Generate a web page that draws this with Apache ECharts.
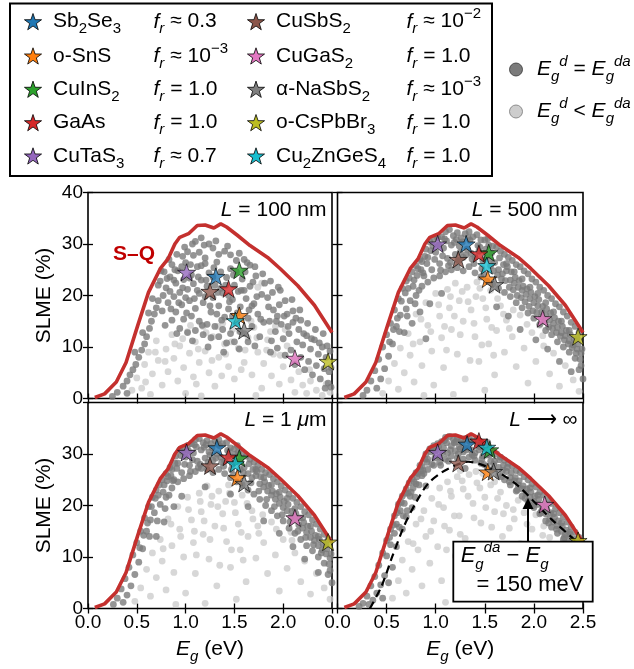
<!DOCTYPE html>
<html>
  <head>
    <meta charset="utf-8" />
    <title>ECharts - SLME vs band gap</title>
    <script src="https://cdn.jsdelivr.net/npm/echarts@6.0.0/dist/echarts.min.js"></script>
  </head>
  <body style="margin:0;">
    <div id="main" style="width: 634px;height:669px;"></div>

    <script type="text/javascript">
      // materials drawn as stars, same order in every panel
      var materials = ['Sb2Se3', 'o-SnS', 'CuInS2', 'GaAs', 'CuTaS3', 'CuSbS2', 'CuGaS2', 'α-NaSbS2', 'o-CsPbBr3', 'Cu2ZnGeS4'];
      var materialLabels = ['Sb{s|2}Se{s|3}', 'o-SnS', 'CuInS{s|2}', 'GaAs', 'CuTaS{s|3}', 'CuSbS{s|2}', 'CuGaS{s|2}', 'α-NaSbS{s|2}', 'o-CsPbBr{s|3}', 'Cu{s|2}ZnGeS{s|4}'];
      var frLabels = [' ≈ 0.3', ' ≈ 10{p|−3}', ' = 1.0', ' = 1.0', ' ≈ 0.7', ' ≈ 10{p|−2}', ' = 1.0', ' ≈ 10{p|−3}', ' = 1.0', ' = 1.0'];
      var starColors = ['#1f77b4', '#ff7f0e', '#2ca02c', '#d62728', '#9467bd', '#8c564b', '#e377c2', '#7f7f7f', '#bcbd22', '#17becf'];
      var panelTitles = ['{i|L} = 100 nm', '{i|L} = 500 nm', '{i|L} = 1 {i|μ}m', '{i|L} ⟶ ∞'];

      // Shockley-Queisser limit (eV, %)
      var sqEg = [0.07, 0.17, 0.29, 0.39, 0.51, 0.62, 0.74, 0.82, 0.89, 0.94, 1.03, 1.12, 1.20, 1.29, 1.36, 1.42, 1.53, 1.66, 1.84, 1.97, 2.15, 2.32, 2.50];
      var sqSlme = [0.2, 0.9, 3.2, 7.0, 14.2, 20.6, 25.2, 27.1, 30.0, 31.3, 32.0, 33.6, 33.7, 33.1, 33.9, 33.3, 31.7, 29.7, 27.4, 25.2, 21.9, 18.1, 12.8];

      // S-Q shifted by Eg_da - Eg = 150 meV (dashed curve, L -> inf panel)
      var daEg = [0.33, 0.45, 0.56, 0.68, 0.80, 0.92, 1.06, 1.19, 1.33, 1.50, 1.67, 1.84, 2.01, 2.18, 2.38, 2.50];
      var daSlme = [0.0, 4.4, 10.2, 16.1, 20.6, 24.2, 26.4, 27.7, 28.5, 27.7, 26.1, 23.8, 20.6, 17.3, 13.9, 11.6];
      var arrowEg = 1.94, arrowFrom = 13.0, arrowTo = 20.4;

      // star positions [Eg, SLME] per panel
      var starsL100 = [[1.31, 23.7], [1.55, 16.1], [1.55, 24.9], [1.44, 21.3], [1.01, 24.5], [1.25, 20.8], [2.12, 7.8], [1.60, 13.2], [2.46, 7.2], [1.51, 15.1]];
      var starsL500 = [[1.31, 30.0], [1.53, 23.2], [1.54, 28.3], [1.44, 28.1], [1.02, 30.0], [1.23, 27.0], [2.09, 15.5], [1.60, 22.1], [2.45, 12.0], [1.52, 25.8]];
      var starsL1um = [[1.32, 31.2], [1.53, 25.4], [1.55, 29.2], [1.44, 29.4], [1.01, 30.3], [1.25, 27.7], [2.12, 17.6], [1.60, 24.3], [2.46, 12.9], [1.51, 28.1]];
      var starsLinf = [[1.32, 31.9], [1.53, 26.5], [1.55, 30.8], [1.44, 32.5], [1.02, 30.3], [1.23, 28.2], [2.11, 20.2], [1.59, 26.6], [2.45, 13.2], [1.52, 31.3]];

      // screened compounds, dark: Eg_d = Eg_da, light: Eg_d < Eg_da
      var darkL100 = [[1.10,30.5],[1.16,31.2],[1.24,30.0],[1.28,29.2],[1.02,28.5],[0.97,27.6],[1.08,27.8],[1.14,28.4],[1.20,27.3],[1.34,28.0],[1.40,28.6],[1.46,27.9],[1.52,26.8],[1.60,27.0],[1.66,25.9],
        [0.72,22.0],[0.74,22.8],[0.78,24.6],[0.80,21.5],[0.84,23.6],[0.86,26.0],[0.88,19.8],[0.90,22.4],[0.92,24.8],[0.94,20.6],[0.96,18.2],[0.98,23.1],[1.00,26.4],[1.02,21.2],[1.04,19.0],[1.06,24.0],[1.08,22.3],[1.10,17.5],[1.12,25.6],[1.14,20.4],[1.16,23.0],[1.18,18.6],[1.20,26.2],[1.22,21.8],[1.24,24.4],[1.26,16.8],[1.28,19.6],[1.30,22.0],[1.32,26.5],[1.34,18.0],[1.36,24.6],[1.38,20.5],[1.40,15.8],[1.42,23.5],[1.44,17.4],[1.46,25.2],[1.48,19.2],[1.50,22.0],[1.52,14.6],[1.54,20.8],[1.56,17.8],[1.58,23.2],[1.60,12.6],[1.62,19.4],[1.64,15.6],[1.66,21.8],[1.68,14.0],[1.70,18.4],[1.72,23.8],[1.74,16.4],[1.76,12.0],[1.78,20.2],[1.80,14.8],
        [0.72,19.0],[0.76,17.0],[0.82,18.6],[0.86,15.2],[0.90,16.8],[0.94,13.6],[0.98,15.4],[1.02,12.8],[1.06,16.0],[1.10,13.2],[1.14,15.0],[1.18,12.4],[1.22,14.4],[1.26,11.8],[1.30,14.0],[1.34,12.0],[1.38,13.4],[1.42,10.8],[1.46,12.6],[1.50,11.0],[0.84,20.8],[0.96,25.6],[1.04,23.4],[1.12,21.0],[1.20,19.8],[1.28,23.6],[1.36,21.4],[1.44,20.0],[1.52,24.6],[1.60,21.0],[1.68,18.0],[0.88,23.0],[1.00,19.6],[1.16,25.8],[1.32,16.4],[1.48,16.0],[1.56,13.0],[1.64,11.0],
        [1.84,19.6],[1.86,15.0],[1.88,11.2],[1.90,17.2],[1.92,13.0],[1.94,9.8],[1.96,18.2],[1.98,14.4],[2.00,11.6],[2.02,8.4],[2.04,16.4],[2.06,12.6],[2.08,9.4],[2.10,14.8],[2.12,6.6],[2.14,11.0],[2.16,13.4],[2.18,8.0],[2.20,10.4],[2.22,5.6],[2.24,12.2],[2.26,7.2],[2.28,9.6],[2.30,4.6],[2.32,11.4],[2.34,6.4],[2.36,8.6],[2.38,3.8],[2.40,10.0],[2.42,5.8],[2.44,8.0],[2.46,3.0],[2.48,9.2],[2.49,6.0],[2.49,2.2],[1.94,16.0],[2.02,19.0],[2.10,17.0],[2.18,15.2],
        [0.25,0.4],[0.30,1.2],[0.36,2.4],[0.40,3.4],[0.43,4.6],[0.46,5.6],[0.49,6.6],[0.52,8.0],[0.55,9.4],[0.58,10.6],[0.60,12.0],[0.63,13.6],[0.65,15.0],[0.68,16.4],[0.70,17.6],[0.66,19.4],[0.56,12.8],[0.48,9.0],[0.62,16.6],[0.40,1.0],
        [0.77,20.0],[0.81,23.3],[0.85,17.4],[0.89,25.0],[0.93,18.6],[0.97,21.5],[1.01,16.6],[1.05,26.0],[1.09,19.4],[1.13,23.6],[1.17,14.2],[1.21,23.0],[1.25,18.0],[1.29,25.4],[1.33,20.6],[1.37,15.2],[1.41,22.0],[1.45,18.8],[1.49,24.0],[1.53,16.6],[1.57,21.0],[1.61,24.6],[1.65,17.2],[1.69,22.6],[1.73,19.8],[1.77,15.4],[1.81,22.4],[1.85,17.8],[1.89,20.6],[1.93,15.0],[1.97,21.0],[2.01,16.0],[2.05,14.0],[2.09,19.2],[2.13,15.6],[2.17,17.2],[2.21,12.6],[2.25,14.6],[2.29,11.6],[2.33,13.4],[2.37,10.8],[2.41,12.6],[2.45,10.2],[2.47,5.2],[2.43,2.0],[1.87,9.0],[1.71,10.2],[1.55,9.6],[1.39,9.0],[1.23,10.0],[1.07,11.2],[0.91,12.6],[0.79,14.2],[0.75,24.8],[0.83,27.0],[0.91,28.0],[0.99,29.4],[1.07,30.0],[1.19,29.8],[1.31,30.6],[1.43,29.6],[1.55,28.2],[1.63,26.4],[1.71,25.6],[1.79,24.2],[1.87,22.8],[1.95,21.6]];
      var lightL100 = [[0.50,4.0],[0.55,2.0],[0.58,6.6],[0.62,9.0],[0.66,4.8],[0.70,11.2],[0.72,7.4],[0.76,2.6],[0.80,9.6],[0.82,5.2],[0.86,12.4],[0.88,7.8],[0.92,3.4],[0.94,10.2],[0.98,6.0],[1.02,13.0],[1.04,8.8],[1.08,4.2],[1.10,11.0],[1.14,7.0],[1.18,14.0],[1.20,9.2],[1.24,5.0],[1.28,12.0],[1.30,2.4],[1.34,8.0],[1.38,14.6],[1.40,10.6],[1.44,6.2],[1.48,13.4],[1.50,3.8],[1.54,9.8],[1.58,15.6],[1.60,7.0],[1.64,11.8],[1.68,4.6],[1.70,13.8],[1.74,9.0],[1.78,2.0],[1.80,6.8],[1.84,11.4],[1.88,4.4],[1.90,8.6],[1.96,2.8],[2.00,6.2],[2.04,10.2],[2.08,3.6],[2.12,1.2],[2.16,5.2],[2.20,2.6],[2.24,1.0],[2.28,3.4],[2.34,1.6],[2.40,0.6],[2.44,2.8],[2.48,1.2],[0.64,0.8],[1.00,1.0],[1.16,0.5],[1.92,14.0],[2.02,13.4],[1.72,0.6],[1.74,21.6],[1.78,22.4],[0.45,1.6],
        [0.97,11.6],[1.05,14.2],[1.13,9.6],[1.21,12.8],[1.27,7.4],[1.33,14.0],[1.41,8.6],[1.47,11.0],[1.55,13.0],[1.61,9.4],[1.67,15.0],[1.73,11.8],[1.83,9.4],[0.89,10.6],[0.79,7.2],[0.69,9.0],[1.37,4.4],[1.57,5.6],[1.97,8.4],[2.11,7.6],[2.27,5.6],[1.87,13.0],[1.11,2.8],[0.59,3.2]];

      var darkL500 = [[0.26,0.6],[0.30,1.6],[0.34,3.4],[0.38,5.4],[0.42,7.6],[0.46,10.0],[0.50,12.4],[0.54,14.6],[0.58,17.2],[0.62,19.4],[0.66,21.4],[0.70,22.8],[0.76,24.6],[0.80,25.8],[0.84,27.0],[0.90,29.0],[0.94,30.4],[0.98,31.0],[1.02,31.2],[1.06,31.4],[1.10,32.4],[1.14,32.8],[1.18,31.6],[1.22,32.2],[1.26,31.2],[1.30,32.0],[1.34,32.4],[1.38,31.4],[1.42,31.8],[1.46,30.8],[1.50,30.8],[1.54,29.8],[1.58,29.6],[1.62,29.4],[1.66,28.6],[1.70,28.0],[1.74,27.4],[1.78,26.8],[1.82,26.0],[1.86,25.6],[1.90,24.8],[1.94,24.2],[1.98,23.2],[2.02,22.6],[2.06,21.6],[2.10,21.0],[2.14,20.0],[2.18,19.4],[2.22,18.4],[2.26,17.8],[2.30,16.8],[2.34,16.0],[2.38,14.8],[2.42,14.0],[2.46,12.8],
        [0.72,21.4],[0.78,23.0],[0.82,25.2],[0.86,26.6],[0.88,23.8],[0.92,27.4],[0.96,25.0],[1.00,28.4],[1.04,26.2],[1.08,29.2],[1.12,27.2],[1.16,29.8],[1.20,28.0],[1.24,29.6],[1.28,27.4],[1.32,29.0],[1.36,28.2],[1.40,27.4],[1.44,28.6],[1.48,26.8],[1.52,27.6],[1.56,25.8],[1.60,26.4],[1.64,25.0],[1.68,24.2],[1.72,24.8],[1.76,23.0],[1.80,22.4],[1.84,21.6],[1.88,21.0],[1.92,20.2],[1.96,19.4],[2.00,18.6],[2.04,18.0],[2.08,16.8],[2.12,16.2],[2.16,15.2],[2.20,14.6],[2.24,13.8],[2.28,12.8],[2.32,12.2],[2.36,11.2],[2.40,10.4],[2.44,9.6],[2.48,8.8],[2.48,6.4],[1.96,21.6],[2.04,20.4],[2.12,18.6],[2.20,16.8],[2.28,15.0],[2.36,13.2],[2.44,11.6],[1.88,23.2],[1.80,24.6],[1.72,26.2],
        [0.70,17.4],[0.74,19.0],[0.80,20.0],[0.86,21.8],[0.92,22.6],[0.98,23.4],[1.04,23.8],[1.10,24.6],[1.16,25.0],[1.22,25.4],[1.28,24.8],[1.34,25.6],[1.40,24.4],[1.46,23.6],[1.52,22.8],[1.58,22.2],[1.64,21.4],[1.70,20.6],[1.76,19.8],[1.82,18.6],[1.88,17.6],[1.94,16.6],[2.00,15.6],[2.06,14.4],[2.12,13.2],[2.18,12.4],[2.24,11.0],[2.30,10.0],[2.36,9.0],[2.42,7.8],[2.46,5.6],[2.50,3.8],
        [0.60,14.0],[0.64,16.2],[0.56,10.6],[0.52,8.2],[0.48,5.8],[0.44,3.8],[0.40,2.0],[0.68,12.8],[0.76,14.6],[0.84,16.8],[0.94,18.4],[1.06,20.4],[1.62,17.8],[1.74,16.0],[1.86,13.4],[2.02,11.4],[2.14,9.6],[2.26,7.2],[0.90,11.6],[2.38,5.2],
        [1.65,27.3],[1.69,26.0],[1.73,25.6],[1.77,24.6],[1.81,23.5],[1.85,22.9],[1.89,21.8],[1.93,21.3],[1.97,20.6],[2.01,19.8],[2.05,19.2],[2.09,17.9],[2.13,17.4],[2.17,16.6],[2.21,15.7],[2.25,15.0],[2.29,14.0],[2.33,13.2],[2.37,12.4],[2.41,11.5],[2.45,10.6],[2.49,9.6],
        [1.67,23.2],[1.75,21.6],[1.83,20.0],[1.91,18.8],[1.99,17.0],[2.07,15.8],[2.15,13.9],[2.23,12.8],[2.31,11.4],[2.39,9.9],[2.47,7.6],[1.63,24.0],[1.71,22.9],[1.79,21.1],[1.87,19.6],[1.95,17.9],[2.03,16.7],[2.11,15.0],[2.19,13.6],[2.27,12.1],[2.35,10.6],[2.43,8.8],
        [0.91,26.2],[0.95,28.7],[0.99,27.0],[1.03,29.8],[1.07,27.7],[1.11,30.6],[1.15,26.4],[1.19,30.3],[1.23,26.8],[1.27,30.4],[1.31,27.9],[1.35,30.7],[1.39,26.2],[1.43,29.7],[1.47,25.2],[1.51,29.0],[1.55,27.0],[1.59,24.8],[1.05,24.9],[1.13,25.8],[1.25,28.4],[1.37,27.1],[1.49,24.2],[1.57,28.3],[0.97,29.6],[1.09,31.0],[1.21,30.9],[1.33,31.2],[1.45,29.4],[1.53,31.0],
        [0.53,11.0],[0.57,13.4],[0.61,15.6],[0.65,18.9],[0.69,20.5],[0.73,23.4],[0.77,21.8],[0.81,23.9],[0.85,25.0],[0.89,27.6],[0.63,13.0],[0.71,16.0],[0.79,18.4],[0.83,21.0],[0.87,24.4]];
      var lightL500 = [[0.46,1.0],[0.52,3.4],[0.58,6.8],[0.62,1.8],[0.64,9.8],[0.68,5.0],[0.72,12.6],[0.74,8.4],[0.78,3.2],[0.80,16.4],[0.84,11.0],[0.86,6.4],[0.90,18.6],[0.92,14.2],[0.96,9.2],[0.98,2.6],[1.00,20.4],[1.04,16.0],[1.06,11.8],[1.08,6.0],[1.12,21.2],[1.14,17.6],[1.16,13.4],[1.20,22.4],[1.22,8.6],[1.24,19.0],[1.28,15.0],[1.30,3.8],[1.32,21.6],[1.36,17.2],[1.40,12.0],[1.42,22.6],[1.44,7.2],[1.48,19.4],[1.52,15.4],[1.54,10.6],[1.56,21.0],[1.60,4.6],[1.62,13.2],[1.66,18.0],[1.70,9.0],[1.72,15.2],[1.78,12.0],[1.82,6.2],[1.86,16.2],[1.90,9.8],[1.94,3.0],[1.98,12.8],[2.02,7.2],[2.06,14.2],[2.10,10.2],[2.16,4.8],[2.20,8.8],[2.26,2.4],[2.32,6.4],[2.40,3.6],[2.46,1.4],[1.18,0.8],[0.88,0.6],[1.50,1.6],
        [1.03,18.2],[1.09,14.0],[1.15,19.8],[1.19,16.0],[1.27,20.8],[1.33,18.8],[1.39,14.6],[1.45,21.4],[1.51,17.6],[1.57,13.8],[1.63,19.4],[1.69,16.4],[1.75,13.6],[1.11,9.4],[1.25,12.4],[1.35,7.4],[1.47,10.4],[0.95,13.0],[0.85,15.4],[1.79,17.2],[1.93,14.4],[2.09,12.2],[0.77,10.6],[1.59,8.4],[1.41,19.8]];

      var darkL1um = [[0.26,0.8],[0.30,2.0],[0.34,3.8],[0.38,5.8],[0.42,8.0],[0.46,10.4],[0.50,12.8],[0.54,15.0],[0.58,17.6],[0.62,19.8],[0.66,21.6],[0.70,23.0],[0.76,25.0],[0.80,26.2],[0.84,27.4],[0.90,29.6],[0.94,30.8],[0.98,31.2],[1.02,31.6],[1.06,32.0],[1.10,32.8],[1.14,33.0],[1.18,32.2],[1.22,32.6],[1.26,32.0],[1.30,32.6],[1.34,32.8],[1.38,32.0],[1.42,32.2],[1.46,31.2],[1.50,31.0],[1.54,30.4],[1.58,30.0],[1.62,29.6],[1.66,29.0],[1.70,28.4],[1.74,27.8],[1.78,27.0],[1.82,26.4],[1.86,26.0],[1.90,25.2],[1.94,24.6],[1.98,23.8],[2.02,23.0],[2.06,22.2],[2.10,21.4],[2.14,20.6],[2.18,19.8],[2.22,18.8],[2.26,18.2],[2.30,17.2],[2.34,16.4],[2.38,15.4],[2.42,14.4],[2.46,13.4],
        [0.72,22.0],[0.78,24.0],[0.82,25.6],[0.86,27.0],[0.88,25.0],[0.92,28.2],[0.96,26.4],[1.00,29.4],[1.04,27.8],[1.08,30.2],[1.12,28.6],[1.16,30.8],[1.20,29.2],[1.24,30.4],[1.28,28.8],[1.32,30.0],[1.36,29.4],[1.40,28.6],[1.44,29.6],[1.48,28.0],[1.52,28.6],[1.56,27.0],[1.60,27.4],[1.64,26.2],[1.68,25.4],[1.72,25.8],[1.76,24.2],[1.80,23.6],[1.84,22.8],[1.88,22.0],[1.92,21.2],[1.96,20.4],[2.00,19.6],[2.04,19.0],[2.08,17.8],[2.12,17.2],[2.16,16.2],[2.20,15.6],[2.24,14.8],[2.28,13.8],[2.32,13.2],[2.36,12.2],[2.40,11.4],[2.44,10.6],[2.48,9.8],[2.48,7.4],[1.96,22.6],[2.04,21.4],[2.12,19.4],[2.20,17.6],[2.28,16.0],[2.36,14.0],[2.44,12.4],[1.88,24.0],[1.80,25.4],[1.72,27.0],
        [0.68,18.6],[0.74,20.2],[0.80,21.6],[0.86,23.4],[0.92,24.6],[0.98,25.2],[1.04,25.8],[1.10,26.6],[1.16,27.2],[1.22,27.0],[1.28,26.4],[1.34,27.0],[1.40,26.2],[1.46,25.4],[1.52,24.6],[1.58,24.0],[1.64,23.0],[1.70,22.2],[1.76,21.2],[1.82,20.0],[1.88,19.0],[1.94,18.0],[2.00,17.0],[2.06,15.6],[2.12,14.6],[2.18,13.4],[2.24,12.2],[2.30,11.2],[2.36,10.0],[2.42,8.8],[2.46,6.6],[2.50,5.0],
        [0.60,15.0],[0.64,17.2],[0.56,11.6],[0.52,9.0],[0.48,6.6],[0.44,4.4],[0.40,2.6],[0.36,1.2],[0.70,14.0],[0.78,16.8],[0.88,19.8],[1.64,19.8],[1.80,17.0],[1.96,14.6],[2.10,12.0],[2.22,9.6],[2.36,7.0],[1.20,23.6],[1.46,22.2],[0.96,21.8],
        [1.65,28.1],[1.69,27.0],[1.73,26.6],[1.77,25.6],[1.81,24.6],[1.85,23.9],[1.89,22.8],[1.93,22.3],[1.97,21.6],[2.01,20.8],[2.05,20.2],[2.09,18.9],[2.13,18.4],[2.17,17.6],[2.21,16.7],[2.25,16.0],[2.29,15.0],[2.33,14.2],[2.37,13.4],[2.41,12.5],[2.45,11.6],[2.49,10.6],
        [1.67,24.4],[1.75,22.8],[1.83,21.2],[1.91,19.8],[1.99,18.2],[2.07,16.8],[2.15,15.0],[2.23,13.8],[2.31,12.4],[2.39,10.8],[2.47,8.6],
        [0.91,27.2],[0.95,29.7],[0.99,28.0],[1.03,30.6],[1.07,28.9],[1.11,31.4],[1.15,28.0],[1.19,31.3],[1.23,28.4],[1.27,31.2],[1.31,29.2],[1.35,31.6],[1.39,27.6],[1.43,30.7],[1.47,27.0],[1.51,29.9],[1.55,28.4],[1.59,26.4],[1.05,26.6],[1.13,27.4],[1.25,29.8],[1.37,28.4],[1.49,26.0],[1.57,29.2],[0.97,30.4],[1.09,31.8],[1.21,31.8],[1.33,31.9],[1.45,30.4],[1.53,31.6],
        [0.53,11.8],[0.57,14.2],[0.61,16.6],[0.65,19.8],[0.69,21.4],[0.73,24.0],[0.77,22.6],[0.81,24.8],[0.85,25.8],[0.89,28.2],[0.63,14.0],[0.71,17.0],[0.79,19.4],[0.83,22.0],[0.87,24.8]];
      var lightL1um = [[0.48,1.4],[0.54,4.0],[0.60,7.6],[0.64,2.4],[0.66,10.8],[0.70,6.0],[0.74,13.4],[0.76,9.2],[0.80,3.6],[0.82,17.4],[0.86,12.2],[0.88,7.0],[0.92,19.8],[0.94,15.4],[0.98,10.0],[1.00,3.0],[1.02,21.6],[1.06,17.2],[1.08,12.8],[1.10,6.8],[1.14,22.4],[1.16,18.8],[1.18,14.4],[1.22,23.8],[1.24,9.6],[1.26,20.2],[1.30,16.0],[1.32,4.4],[1.34,22.8],[1.38,18.4],[1.42,13.0],[1.44,24.0],[1.46,8.0],[1.50,20.6],[1.54,16.4],[1.56,11.4],[1.58,22.0],[1.62,5.2],[1.64,14.0],[1.68,19.0],[1.72,9.8],[1.74,16.0],[1.80,12.8],[1.84,6.8],[1.88,16.8],[1.92,10.4],[1.96,3.4],[2.00,13.4],[2.04,7.8],[2.08,14.8],[2.12,10.8],[2.18,5.2],[2.22,9.2],[2.28,2.8],[2.34,6.8],[2.42,4.0],[2.48,1.8],[1.20,1.0],[0.90,0.8],[1.52,1.8],
        [1.03,19.2],[1.09,15.0],[1.15,20.8],[1.19,17.0],[1.27,21.8],[1.33,19.8],[1.39,15.6],[1.45,22.4],[1.51,18.6],[1.57,14.8],[1.63,20.4],[1.69,17.4],[1.75,14.6],[1.11,10.4],[1.25,13.4],[1.35,8.4],[1.47,11.4],[0.95,14.0],[0.85,16.4],[1.79,18.2],[1.93,15.4],[2.09,13.2],[0.77,11.6],[1.59,9.4],[1.41,20.8]];

      var darkLinf = [[0.22,0.4],[0.26,1.0],[0.30,2.4],[0.34,4.4],[0.38,6.2],[0.42,8.4],[0.46,10.8],[0.50,13.2],[0.54,15.4],[0.58,18.0],[0.62,20.2],[0.66,21.8],[0.70,23.2],[0.76,25.2],[0.80,26.4],[0.84,27.8],[0.90,30.0],[0.94,31.0],[0.98,31.6],[1.02,32.0],[1.06,32.4],[1.10,33.2],[1.14,33.4],[1.18,32.8],[1.22,33.0],[1.26,32.6],[1.30,33.0],[1.34,33.2],[1.38,32.6],[1.42,32.8],[1.46,31.8],[1.50,31.4],[1.54,30.8],[1.58,30.4],[1.62,30.0],[1.66,29.4],[1.70,28.8],[1.74,28.2],[1.78,27.6],[1.82,26.8],[1.86,26.4],[1.90,25.6],[1.94,25.0],[1.98,24.2],[2.02,23.6],[2.06,22.6],[2.10,22.0],[2.14,21.0],[2.18,20.4],[2.22,19.4],[2.26,18.6],[2.30,17.8],[2.34,16.8],[2.38,15.8],[2.42,14.8],[2.46,13.8],
        [0.72,22.4],[0.78,24.6],[0.82,26.2],[0.86,27.6],[0.88,26.2],[0.92,29.0],[0.96,28.0],[1.00,30.6],[1.04,29.4],[1.08,31.2],[1.12,30.2],[1.16,31.6],[1.20,30.6],[1.24,31.4],[1.28,30.4],[1.32,31.2],[1.36,30.8],[1.40,30.2],[1.44,30.8],[1.48,29.6],[1.52,29.8],[1.56,28.6],[1.60,28.6],[1.64,27.4],[1.68,26.8],[1.72,26.6],[1.76,25.4],[1.80,24.8],[1.84,24.0],[1.88,23.2],[1.92,22.4],[1.96,21.6],[2.00,20.8],[2.04,20.2],[2.08,19.0],[2.12,18.4],[2.16,17.4],[2.20,16.8],[2.24,16.0],[2.28,15.0],[2.32,14.4],[2.36,13.4],[2.40,12.6],[2.44,11.8],[2.48,11.0],[1.96,23.4],[2.04,22.0],[2.12,20.2],[2.20,18.4],[2.28,16.6],[2.36,14.8],[2.44,13.0],
        [0.60,16.4],[0.64,19.0],[0.68,20.4],[0.74,21.8],[0.80,24.2],[0.86,25.8],[0.92,27.0],[0.98,27.8],[1.04,28.4],[1.10,29.0],[1.16,29.6],[1.22,29.2],[1.28,29.0],[1.34,29.4],[1.40,28.8],[1.46,28.2],[1.52,27.6],[1.58,27.0],[1.64,25.8],[1.70,25.0],[1.76,24.0],[1.82,22.8],[1.88,21.8],[1.94,20.8],[2.00,19.6],[2.06,18.4],[2.12,17.0],[2.18,15.8],[2.24,14.6],[2.30,13.4],[2.36,12.0],[2.42,10.8],[2.48,9.6],
        [0.50,10.2],[0.54,12.4],[0.56,8.0],[0.48,6.4],[0.44,4.6],[0.40,3.0],[0.52,5.0],[0.60,12.0],[0.66,15.4],[0.70,17.8],[0.76,19.6],[0.36,1.6],[0.32,0.8],[0.46,2.0],[1.30,27.2],[0.90,23.8],
        [1.65,28.9],[1.69,27.8],[1.73,27.4],[1.77,26.4],[1.81,25.4],[1.85,24.8],[1.89,23.8],[1.93,23.2],[1.97,22.6],[2.01,21.8],[2.05,21.2],[2.09,19.9],[2.13,19.4],[2.17,18.6],[2.21,17.7],[2.25,17.0],[2.29,16.0],[2.33,15.2],[2.37,14.4],[2.41,13.5],[2.45,12.6],[2.49,11.6],
        [1.67,25.6],[1.75,24.6],[1.83,23.0],[1.91,21.4],[1.99,20.0],[2.07,18.6],[2.15,16.6],[2.23,15.4],[2.31,13.8],[2.39,12.2],[2.47,10.4],
        [0.91,28.4],[0.95,30.4],[0.99,29.2],[1.03,31.4],[1.07,30.2],[1.11,32.2],[1.15,30.8],[1.19,32.2],[1.23,30.0],[1.27,32.1],[1.31,30.8],[1.35,32.4],[1.39,29.6],[1.43,31.7],[1.47,29.0],[1.51,30.9],[1.55,29.8],[1.59,28.0],[1.05,27.8],[1.13,28.6],[1.25,31.0],[1.37,29.9],[1.49,28.0],[1.57,30.2],[0.97,31.0],[1.09,32.6],[1.21,32.4],[1.33,32.6],[1.45,31.4],[1.53,32.2],
        [0.53,13.8],[0.57,16.2],[0.61,18.6],[0.65,20.6],[0.69,22.4],[0.73,24.4],[0.77,23.4],[0.81,25.6],[0.85,26.8],[0.89,29.0],[0.63,15.8],[0.71,19.0],[0.79,21.6],[0.83,24.0],[0.87,26.8],[0.58,14.6],[0.67,18.0],[0.75,22.6]];
      var lightLinf = [[0.56,2.0],[0.62,5.4],[0.66,9.4],[0.70,3.0],[0.72,13.0],[0.76,7.6],[0.80,16.4],[0.82,11.4],[0.86,4.4],[0.88,19.0],[0.90,14.0],[0.94,8.8],[0.96,21.4],[0.98,17.0],[1.02,12.0],[1.04,23.4],[1.06,5.4],[1.08,19.6],[1.12,24.6],[1.14,15.2],[1.16,21.8],[1.20,10.2],[1.22,25.6],[1.24,18.0],[1.28,23.2],[1.30,13.6],[1.32,3.6],[1.34,26.0],[1.38,20.4],[1.40,8.0],[1.42,24.4],[1.46,16.6],[1.48,26.2],[1.50,21.6],[1.54,11.6],[1.56,24.0],[1.60,18.8],[1.62,5.0],[1.66,22.6],[1.68,14.0],[1.72,20.0],[1.76,9.4],[1.80,17.4],[1.84,21.0],[1.86,12.6],[1.90,18.6],[1.94,6.6],[1.98,15.4],[2.02,18.2],[2.06,11.0],[2.10,16.0],[2.16,13.8],[2.20,7.4],[2.26,12.0],[2.32,3.8],[2.38,9.0],[2.44,2.2],[2.48,6.0],[1.10,1.2],[1.56,2.4],
        [1.03,20.2],[1.09,16.0],[1.15,22.8],[1.19,18.0],[1.27,24.8],[1.33,21.8],[1.39,17.6],[1.45,23.4],[1.51,19.6],[1.57,15.8],[1.63,21.4],[1.69,18.4],[1.75,15.6],[1.11,11.4],[1.25,14.4],[1.35,9.4],[1.47,12.4],[0.95,15.0],[0.85,17.4],[1.79,19.2],[1.93,16.4],[2.09,14.2],[0.77,12.6],[1.59,10.4],[1.41,26.6],[1.25,26.8],[1.60,24.6]];

      var FONT = '"Liberation Sans", Arial, Helvetica, sans-serif';
      var SQ_COLOR = '#c4302e';
      var DARK = '#7b7b7b', LIGHT = '#cdcdcd';

      var grids = [
        { left: 88, top: 192.5, width: 244, height: 206 },
        { left: 337.5, top: 192.5, width: 245.5, height: 206 },
        { left: 88, top: 402.5, width: 244, height: 206 },
        { left: 337.5, top: 402.5, width: 245.5, height: 206 }
      ];
      var panels = [
        { stars: starsL100, dark: darkL100, light: lightL100 },
        { stars: starsL500, dark: darkL500, light: lightL500 },
        { stars: starsL1um, dark: darkL1um, light: lightL1um },
        { stars: starsLinf, dark: darkLinf, light: lightLinf }
      ];

      // five-pointed star outline (unit radius), matplotlib '*'-like
      function starPoints() {
        var pts = [];
        for (var i = 0; i < 10; i++) {
          var r = i % 2 ? 0.39 : 1;
          var a = -Math.PI / 2 + i * Math.PI / 5;
          pts.push([r * Math.cos(a), r * Math.sin(a)]);
        }
        return pts;
      }
      var STAR_PTS = starPoints();
      var STAR_SYMBOL = 'path://' + STAR_PTS.map(function (p, i) {
        return (i ? 'L' : 'M') + p[0].toFixed(4) + ',' + p[1].toFixed(4);
      }).join(' ') + ' Z';

      function zip(xs, ys) {
        return xs.map(function (x, i) { return [x, ys[i]]; });
      }

      // rich styles for sub/superscripts in graphic texts
      function richSet(size) {
        var sm = Math.round(size * 0.7);
        return {
          i: { fontSize: size, fontFamily: FONT, fontStyle: 'italic', fill: '#000' },
          s: { fontSize: sm, fontFamily: FONT, fill: '#000', verticalAlign: 'bottom' },
          si: { fontSize: sm, fontFamily: FONT, fontStyle: 'italic', fill: '#000', verticalAlign: 'bottom' },
          p: { fontSize: sm, fontFamily: FONT, fill: '#000', verticalAlign: 'top' },
          pi: { fontSize: sm, fontFamily: FONT, fontStyle: 'italic', fill: '#000', verticalAlign: 'top' }
        };
      }
      function text(x, y, str, size, align, z) {
        return {
          type: 'text', x: x, y: y, z: z || 100,
          style: {
            text: str, fontSize: size, fontFamily: FONT, fill: '#000',
            align: align || 'left', textAlign: align || 'left',
            verticalAlign: 'middle', textVerticalAlign: 'middle',
            lineHeight: Math.round(size * 1.45), rich: richSet(size)
          }
        };
      }

      var tickStyle = { inside: true, length: 5, lineStyle: { color: '#000', width: 1.3 } };
      var xAxes = [], yAxes = [];
      grids.forEach(function (g, i) {
        var bottomRow = i >= 2, leftCol = i % 2 === 0;
        xAxes.push({
          type: 'value', gridIndex: i, position: 'bottom', min: 0, max: 2.5, interval: 0.5,
          axisLine: { show: false }, splitLine: { show: false }, axisTick: tickStyle,
          axisLabel: {
            show: bottomRow, color: '#000', fontSize: 19, fontFamily: FONT, margin: 5,
            showMaxLabel: i === 3, formatter: function (v) { return v.toFixed(1); }
          },
          name: bottomRow ? '{i|E}{s|g} (eV)' : '', nameLocation: 'middle', nameGap: 26,
          nameTextStyle: {
            color: '#000', fontSize: 21, fontFamily: FONT, lineHeight: 30,
            rich: {
              i: { fontStyle: 'italic', fontSize: 21, fontFamily: FONT, color: '#000', lineHeight: 30 },
              s: { fontStyle: 'italic', fontSize: 15, fontFamily: FONT, color: '#000', verticalAlign: 'bottom' }
            }
          }
        });
        xAxes.push({
          type: 'value', gridIndex: i, position: 'top', min: 0, max: 2.5, interval: 0.5,
          axisLine: { show: false }, splitLine: { show: false }, axisTick: tickStyle, axisLabel: { show: false }
        });
        yAxes.push({
          type: 'value', gridIndex: i, position: 'left', min: 0, max: 40, interval: 10,
          axisLine: { show: false }, splitLine: { show: false }, axisTick: tickStyle,
          axisLabel: { show: leftCol, color: '#000', fontSize: 19, fontFamily: FONT, margin: 5, showMaxLabel: i === 0 },
          name: leftCol ? 'SLME (%)' : '', nameLocation: 'middle', nameGap: 33,
          nameTextStyle: { color: '#000', fontSize: 21, fontFamily: FONT }
        });
        yAxes.push({
          type: 'value', gridIndex: i, position: 'right', min: 0, max: 40, interval: 10,
          axisLine: { show: false }, splitLine: { show: false }, axisTick: tickStyle, axisLabel: { show: false }
        });
      });

      var series = [];
      panels.forEach(function (p, i) {
        var ax = { xAxisIndex: 2 * i, yAxisIndex: 2 * i };
        series.push(Object.assign({
          type: 'scatter', data: p.light, symbolSize: 6.8, silent: true, z: 2,
          itemStyle: { color: LIGHT }
        }, ax));
        series.push(Object.assign({
          type: 'scatter', data: p.dark, symbolSize: 6.8, silent: true, z: 2,
          itemStyle: { color: DARK }
        }, ax));
        series.push(Object.assign({
          type: 'line', data: zip(sqEg, sqSlme), showSymbol: false, silent: true, z: 3,
          lineStyle: { color: SQ_COLOR, width: 3.6 }
        }, ax));
        if (i === 3) {
          series.push(Object.assign({
            type: 'line', data: zip(daEg, daSlme), showSymbol: false, silent: true, z: 3, smooth: 0.3,
            lineStyle: { color: '#000', width: 2.2, type: [8, 5] },
            markLine: {
              silent: true, symbol: ['none', 'triangle'], symbolSize: 11, animation: false,
              label: { show: false },
              lineStyle: { color: '#000', width: 2, type: 'solid' },
              data: [[{ coord: [arrowEg, arrowFrom] }, { coord: [arrowEg, arrowTo] }]]
            }
          }, ax));
        }
        materials.forEach(function (m, k) {
          series.push(Object.assign({
            type: 'scatter', name: m, data: [p.stars[k]], z: 4,
            symbol: STAR_SYMBOL, symbolSize: 18, symbolKeepAspect: true,
            itemStyle: { color: starColors[k], borderColor: '#000', borderWidth: 0.8 }
          }, ax));
        });
      });

      // legend box, panel titles and annotation
      var graphic = [];
      graphic.push({ type: 'rect', z: 100, shape: { x: 10, y: 3.5, width: 482, height: 172.5 },
        style: { fill: 'rgba(0,0,0,0)', stroke: '#000', lineWidth: 2 } });
      var rowsY = [21.7, 56, 89.3, 122.7, 156];
      materials.forEach(function (m, k) {
        var col = k < 5 ? 0 : 1, y = rowsY[k % 5];
        var starX = col ? 256 : 33, nameX = col ? 276 : 53, frX = col ? 406.5 : 153.5;
        graphic.push({ type: 'polygon', z: 100,
          shape: { points: STAR_PTS.map(function (q) { return [starX + q[0] * 9, y + 0.8 + q[1] * 9]; }) },
          style: { fill: starColors[k], stroke: '#000', lineWidth: 0.8 } });
        graphic.push(text(nameX, y, materialLabels[k], 21));
        graphic.push(text(frX, y, '{i|f}{si|r}' + frLabels[k], 21));
      });
      graphic.push({ type: 'circle', z: 100, shape: { cx: 516, cy: 69.5, r: 6.5 },
        style: { fill: DARK, stroke: '#333', lineWidth: 0.8 } });
      graphic.push({ type: 'circle', z: 100, shape: { cx: 516, cy: 111.5, r: 6.5 },
        style: { fill: LIGHT, stroke: '#777', lineWidth: 0.8 } });
      graphic.push(text(537, 69.5, '{i|E}{si|g}{pi|d} = {i|E}{si|g}{pi|da}', 21));
      graphic.push(text(537, 111.5, '{i|E}{si|g}{pi|d} < {i|E}{si|g}{pi|da}', 21));

      grids.forEach(function (g, i) {
        graphic.push(text(g.left + g.width - 5.5, g.top + 18, panelTitles[i], 21, 'right'));
      });
      graphic.push({ type: 'text', z: 100, x: 134, y: 254,
        style: { text: 'S–Q', fontSize: 21, fontWeight: 'bold', fontFamily: FONT, fill: '#c00000',
          align: 'center', textAlign: 'center', verticalAlign: 'middle', textVerticalAlign: 'middle' } });

      graphic.push({ type: 'rect', z: 110, shape: { x: 453.3, y: 541.7, width: 139.4, height: 60 },
        style: { fill: '#fff', stroke: '#000', lineWidth: 1.8 } });
      graphic.push(text(460.7, 556, '{i|E}{si|g}{pi|da} − {i|E}{si|g}', 22, 'left', 111));
      graphic.push(text(583.5, 585, '= 150 meV', 22, 'right', 111));

      var option = {
        animation: false,
        textStyle: { fontFamily: FONT },
        grid: grids.map(function (g) {
          return Object.assign({ show: true, borderColor: '#000', borderWidth: 1.6, backgroundColor: 'rgba(0,0,0,0)',
            containLabel: false, outerBoundsMode: 'none' }, g);
        }),
        xAxis: xAxes,
        yAxis: yAxes,
        series: series,
        graphic: graphic
      };

      var chart = echarts.init(document.getElementById('main'));
      chart.setOption(option);
    </script>
  </body>
</html>
